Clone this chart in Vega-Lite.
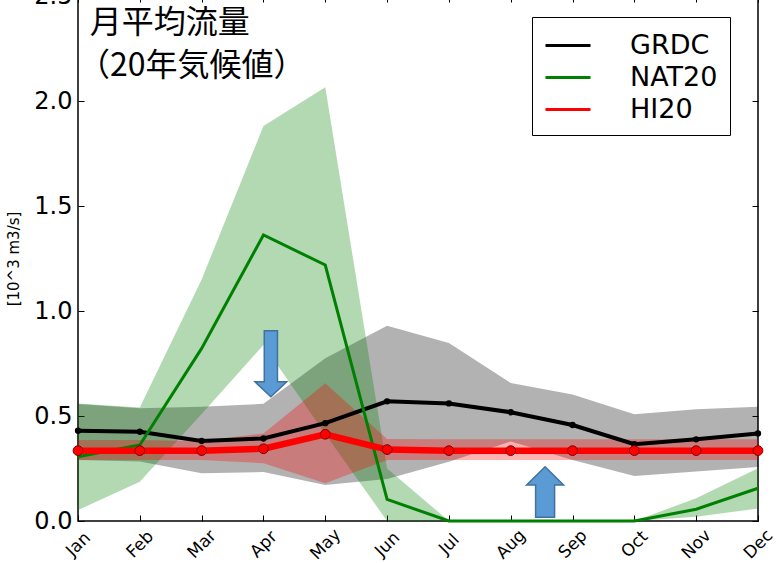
{
  "$schema": "https://vega.github.io/schema/vega-lite/v6.json",
  "width": 680,
  "height": 525,
  "autosize": {"type": "none"},
  "padding": {"left": 78, "top": -4, "right": 20, "bottom": 42},
  "background": "white",
  "config": {
    "font": "DejaVu Sans",
    "view": {"stroke": "black", "strokeWidth": 1.5},
    "axis": {"grid": false, "domain": false, "tickColor": "black", "labelColor": "black", "titleColor": "black"}
  },
  "datasets": {
    "series": [
      {"series": "GRDC", "m": 0, "mean": 0.43, "lo": 0.29, "hi": 0.557},
      {"series": "GRDC", "m": 1, "mean": 0.425, "lo": 0.283, "hi": 0.537},
      {"series": "GRDC", "m": 2, "mean": 0.381, "lo": 0.227, "hi": 0.544},
      {"series": "GRDC", "m": 3, "mean": 0.393, "lo": 0.233, "hi": 0.558},
      {"series": "GRDC", "m": 4, "mean": 0.466, "lo": 0.171, "hi": 0.775},
      {"series": "GRDC", "m": 5, "mean": 0.57, "lo": 0.2, "hi": 0.93},
      {"series": "GRDC", "m": 6, "mean": 0.56, "lo": 0.282, "hi": 0.848},
      {"series": "GRDC", "m": 7, "mean": 0.518, "lo": 0.378, "hi": 0.657},
      {"series": "GRDC", "m": 8, "mean": 0.457, "lo": 0.29, "hi": 0.602},
      {"series": "GRDC", "m": 9, "mean": 0.366, "lo": 0.214, "hi": 0.508},
      {"series": "GRDC", "m": 10, "mean": 0.389, "lo": 0.236, "hi": 0.532},
      {"series": "GRDC", "m": 11, "mean": 0.417, "lo": 0.257, "hi": 0.544},
      {"series": "NAT20", "m": 0, "mean": 0.306, "lo": 0.052, "hi": 0.56},
      {"series": "NAT20", "m": 1, "mean": 0.362, "lo": 0.187, "hi": 0.54},
      {"series": "NAT20", "m": 2, "mean": 0.822, "lo": 0.51, "hi": 1.15},
      {"series": "NAT20", "m": 3, "mean": 1.362, "lo": 0.838, "hi": 1.881},
      {"series": "NAT20", "m": 4, "mean": 1.219, "lo": 0.414, "hi": 2.065},
      {"series": "NAT20", "m": 5, "mean": 0.103, "lo": 0, "hi": 0.25},
      {"series": "NAT20", "m": 6, "mean": 0, "lo": 0, "hi": 0},
      {"series": "NAT20", "m": 7, "mean": 0, "lo": 0, "hi": 0},
      {"series": "NAT20", "m": 8, "mean": 0, "lo": 0, "hi": 0},
      {"series": "NAT20", "m": 9, "mean": 0, "lo": 0, "hi": 0},
      {"series": "NAT20", "m": 10, "mean": 0.056, "lo": 0.02, "hi": 0.108},
      {"series": "NAT20", "m": 11, "mean": 0.156, "lo": 0.06, "hi": 0.251},
      {"series": "HI20", "m": 0, "mean": 0.335, "lo": 0.29, "hi": 0.386},
      {"series": "HI20", "m": 1, "mean": 0.335, "lo": 0.29, "hi": 0.386},
      {"series": "HI20", "m": 2, "mean": 0.335, "lo": 0.29, "hi": 0.38},
      {"series": "HI20", "m": 3, "mean": 0.344, "lo": 0.275, "hi": 0.417},
      {"series": "HI20", "m": 4, "mean": 0.413, "lo": 0.18, "hi": 0.656},
      {"series": "HI20", "m": 5, "mean": 0.34, "lo": 0.29, "hi": 0.39},
      {"series": "HI20", "m": 6, "mean": 0.335, "lo": 0.29, "hi": 0.389},
      {"series": "HI20", "m": 7, "mean": 0.335, "lo": 0.29, "hi": 0.389},
      {"series": "HI20", "m": 8, "mean": 0.335, "lo": 0.29, "hi": 0.389},
      {"series": "HI20", "m": 9, "mean": 0.335, "lo": 0.29, "hi": 0.389},
      {"series": "HI20", "m": 10, "mean": 0.335, "lo": 0.29, "hi": 0.389},
      {"series": "HI20", "m": 11, "mean": 0.335, "lo": 0.29, "hi": 0.389}
    ],
    "arrows": [
      {"dir": "down", "m": 3.12, "v": 0.749},
      {"dir": "up", "m": 7.556, "v": 0.138}
    ],
    "titles": [
      {"m": 0.19, "v": 2.442, "label": "月平均流量"},
      {"m": 0.0, "v": 2.237, "label": "（20年気候値）"}
    ]
  },
  "layer": [
    {
      "data": {"name": "series"},
      "transform": [{"filter": "datum.series === 'GRDC'"}],
      "mark": {"type": "area", "fill": "#000000", "fillOpacity": 0.3},
      "encoding": {
        "x": {"field": "m", "type": "quantitative",
          "scale": {"domain": [0, 11], "nice": false, "zero": false},
          "axis": {"orient": "bottom", "values": [0,1,2,3,4,5,6,7,8,9,10,11],
            "labelExpr": "['Jan','Feb','Mar','Apr','May','Jun','Jul','Aug','Sep','Oct','Nov','Dec'][datum.value]",
            "labelAngle": -45, "labelAlign": "center", "labelBaseline": "middle",
            "labelFontSize": 17, "tickSize": -6, "labelPadding": 29, "title": null, "labelFlush": false, "labelOverlap": false}},
        "y": {"field": "lo", "type": "quantitative",
          "scale": {"domain": [0, 2.5], "nice": false, "zero": false},
          "axis": {"orient": "left", "values": [0, 0.5, 1, 1.5, 2, 2.5], "format": ".1f",
            "labelFontSize": 24, "tickSize": -6, "labelPadding": 12, "labelFlush": false,
            "title": "[10^3 m3/s]", "titleFontSize": 15, "titleFontWeight": "normal", "titlePadding": 12}},
        "y2": {"field": "hi"}
      }
    },
    {
      "data": {"name": "series"},
      "transform": [{"filter": "datum.series === 'NAT20'"}],
      "mark": {"type": "area", "fill": "#008000", "fillOpacity": 0.3},
      "encoding": {
        "x": {"field": "m", "type": "quantitative", "axis": null},
        "y": {"field": "lo", "type": "quantitative", "axis": null},
        "y2": {"field": "hi"}
      }
    },
    {
      "data": {"name": "series"},
      "transform": [{"filter": "datum.series === 'HI20'"}],
      "mark": {"type": "area", "fill": "#ff0000", "fillOpacity": 0.3},
      "encoding": {
        "x": {"field": "m", "type": "quantitative", "axis": null},
        "y": {"field": "lo", "type": "quantitative", "axis": null},
        "y2": {"field": "hi"}
      }
    },
    {
      "data": {"name": "series"},
      "transform": [{"filter": "datum.series === 'GRDC'"}],
      "mark": {"type": "line", "strokeWidth": 4},
      "encoding": {
        "x": {"field": "m", "type": "quantitative",
          "axis": {"orient": "top", "values": [0,1,2,3,4,5,6,7,8,9,10,11], "labels": false, "tickSize": -6, "title": null}},
        "y": {"field": "mean", "type": "quantitative",
          "axis": {"orient": "right", "values": [0, 0.5, 1, 1.5, 2, 2.5], "labels": false, "tickSize": -6, "title": null}},
        "stroke": {"field": "series", "type": "nominal",
          "scale": {"domain": ["GRDC", "NAT20", "HI20"], "range": ["#000000", "#008000", "#ff0000"]},
          "legend": {"title": null, "orient": "none", "legendX": 454, "legendY": 21,
            "symbolType": "M -1,0 L 2,0", "symbolSize": 900, "symbolStrokeWidth": 3,
            "labelFontSize": 27, "labelFont": "DejaVu Sans", "labelColor": "black", "labelOffset": 53,
            "strokeColor": "black", "fillColor": "white", "padding": 12, "rowPadding": 2}}
      }
    },
    {
      "data": {"name": "series"},
      "transform": [{"filter": "datum.series === 'NAT20'"}],
      "mark": {"type": "line", "strokeWidth": 3},
      "encoding": {
        "x": {"field": "m", "type": "quantitative", "axis": null},
        "y": {"field": "mean", "type": "quantitative", "axis": null},
        "stroke": {"field": "series", "type": "nominal"}
      }
    },
    {
      "data": {"name": "series"},
      "transform": [{"filter": "datum.series === 'HI20'"}],
      "mark": {"type": "line", "strokeWidth": 6.5},
      "encoding": {
        "x": {"field": "m", "type": "quantitative", "axis": null},
        "y": {"field": "mean", "type": "quantitative", "axis": null},
        "stroke": {"field": "series", "type": "nominal"}
      }
    },
    {
      "data": {"name": "series"},
      "transform": [{"filter": "datum.series === 'GRDC'"}],
      "mark": {"type": "point", "filled": true, "shape": "circle", "size": 40, "color": "black", "opacity": 1},
      "encoding": {
        "x": {"field": "m", "type": "quantitative", "axis": null},
        "y": {"field": "mean", "type": "quantitative", "axis": null}
      }
    },
    {
      "data": {"name": "series"},
      "transform": [{"filter": "datum.series === 'HI20'"}],
      "mark": {"type": "point", "shape": "circle", "size": 95, "fill": "#ff0000", "stroke": "#7a0000", "strokeWidth": 1, "opacity": 1, "fillOpacity": 1},
      "encoding": {
        "x": {"field": "m", "type": "quantitative", "axis": null},
        "y": {"field": "mean", "type": "quantitative", "axis": null}
      }
    },
    {
      "data": {"name": "arrows"},
      "transform": [{"filter": "datum.dir === 'down'"}],
      "mark": {"type": "point", "shape": "M -0.2,-1 L 0.2,-1 L 0.2,0.55 L 0.48,0.55 L 0,1 L -0.48,0.55 L -0.2,0.55 Z",
        "size": 4356, "fill": "#5b9bd5", "stroke": "#41719c", "strokeWidth": 1.5, "opacity": 1, "fillOpacity": 1},
      "encoding": {
        "x": {"field": "m", "type": "quantitative", "axis": null},
        "y": {"field": "v", "type": "quantitative", "axis": null}
      }
    },
    {
      "data": {"name": "arrows"},
      "transform": [{"filter": "datum.dir === 'up'"}],
      "mark": {"type": "point", "shape": "M 0,-1 L 0.73,-0.28 L 0.375,-0.28 L 0.375,1 L -0.375,1 L -0.375,-0.28 L -0.73,-0.28 Z",
        "size": 2560, "fill": "#5b9bd5", "stroke": "#41719c", "strokeWidth": 1.5, "opacity": 1, "fillOpacity": 1},
      "encoding": {
        "x": {"field": "m", "type": "quantitative", "axis": null},
        "y": {"field": "v", "type": "quantitative", "axis": null}
      }
    },
    {
      "data": {"name": "titles"},
      "mark": {"type": "text", "align": "left", "baseline": "top", "font": "Noto Sans CJK JP",
        "fontSize": 32, "color": "black"},
      "encoding": {
        "x": {"field": "m", "type": "quantitative", "axis": null},
        "y": {"field": "v", "type": "quantitative", "axis": null},
        "text": {"field": "label"}
      }
    }
  ],
  "resolve": {"axis": {"x": "independent", "y": "independent"}}
}
